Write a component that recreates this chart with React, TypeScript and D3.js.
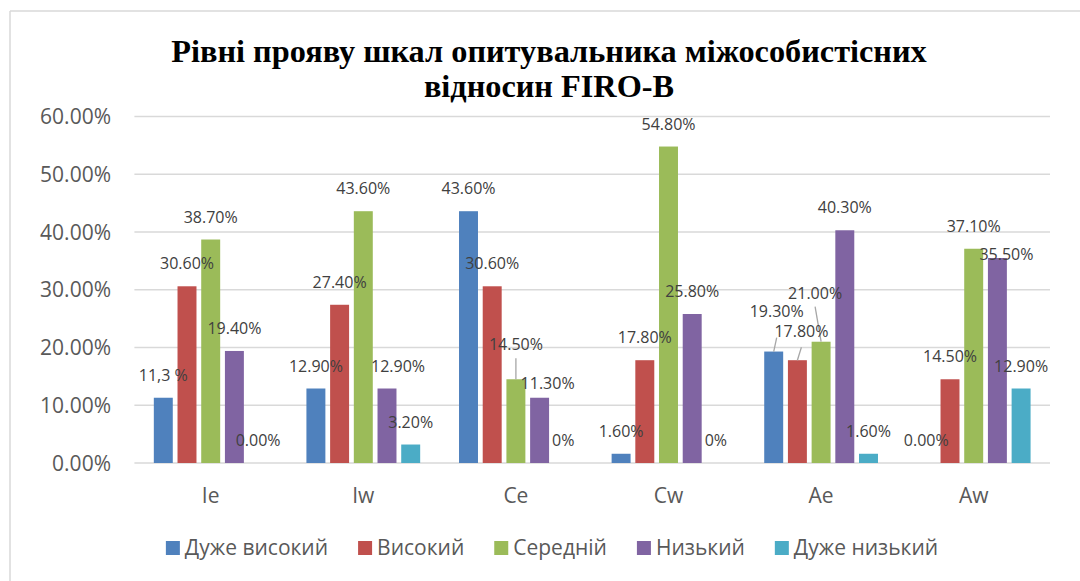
import React from 'react';
import * as d3 from 'd3';

const categories = ['Ie', 'Iw', 'Ce', 'Cw', 'Ae', 'Aw'];
const seriesNames = ['Дуже високий', 'Високий', 'Середній', 'Низький', 'Дуже низький'];
const veryHigh = [11.3, 12.9, 43.6, 1.6, 19.3, 0.0];
const high = [30.6, 27.4, 30.6, 17.8, 17.8, 14.5];
const medium = [38.7, 43.6, 14.5, 54.8, 21.0, 37.1];
const low = [19.4, 12.9, 11.3, 25.8, 40.3, 35.5];
const veryLow = [0.0, 3.2, 0.0, 0.0, 1.6, 12.9];
const yTicks = [0, 10, 20, 30, 40, 50, 60];
const titleLines = ['Рівні прояву шкал опитувальника міжособистісних', 'відносин FIRO-B'];

// label texts that differ from the default "0.00%" formatting
const labelTextOverrides = [
  { cat: 'Ie', s: 0, text: '11,3 %' },
  { cat: 'Ce', s: 4, text: '0%' },
  { cat: 'Cw', s: 4, text: '0%' },
];

// manual label nudges (relative to default outside-end position)
const labelNudges = [
  { cat: 'Iw', s: 3, dx: 11, dy: 0, leader: 0 },
  { cat: 'Ce', s: 2, dx: 0, dy: -12, leader: 8 },
  { cat: 'Ce', s: 3, dx: 8, dy: 8, leader: 0 },
  { cat: 'Ae', s: 0, dx: 3, dy: -18, leader: 21 },
  { cat: 'Ae', s: 1, dx: 4, dy: -6, leader: 10 },
  { cat: 'Ae', s: 2, dx: -6, dy: -26, leader: 8 },
  { cat: 'Aw', s: 3, dx: 9, dy: 19, leader: 0 },
];

const seriesValues = [veryHigh, high, medium, low, veryLow];
const colors = ['#4f81bd', '#c0504d', '#9bbb59', '#8064a2', '#4bacc6'];

const W = 1080;
const H = 581;
const plotLeft = 134.4;
const plotRight = 1050;
const plotTop = 116.5;
const plotBottom = 463;
const sans = "'Open Sans', sans-serif";

function measure(text: string, font: string): number {
  const c = document.createElement('canvas');
  const ctx = c.getContext('2d');
  if (!ctx) return text.length * 10;
  ctx.font = font;
  return ctx.measureText(text).width;
}

export default function App() {
  const x0 = d3.scaleBand<string>().domain(categories).range([plotLeft, plotRight]).padding(0);
  const y = d3.scaleLinear().domain([0, 60]).range([plotBottom, plotTop]);
  const groupW = 118.5;
  const x1 = d3
    .scaleBand<number>()
    .domain(d3.range(seriesNames.length))
    .range([0, groupW])
    .paddingInner(0.2)
    .paddingOuter(0.1);
  const fmt = d3.format('.2f');

  const bars: any[] = [];
  const labels: any[] = [];
  categories.forEach((cat, ci) => {
    const gx = (x0(cat) as number) + x0.bandwidth() / 2 - groupW / 2;
    seriesValues.forEach((vals, si) => {
      const v = vals[ci];
      const bx = gx + (x1(si) as number);
      const bw = x1.bandwidth();
      const top = y(v);
      bars.push({ key: `${cat}-${si}`, x: bx, y: top, w: bw, h: plotBottom - top, color: colors[si] });
      const ov = labelTextOverrides.find((o) => o.cat === cat && o.s === si);
      const nd = labelNudges.find((o) => o.cat === cat && o.s === si);
      const cx = bx + bw / 2;
      const lx = cx + (nd ? nd.dx : 0);
      const ly = top - 17 + (nd ? nd.dy : 0);
      labels.push({
        key: `${cat}-${si}`,
        x: lx,
        y: ly,
        text: ov ? ov.text : `${fmt(v)}%`,
        leader: nd && nd.leader ? { x1: lx, y1: ly + nd.leader, x2: cx, y2: top } : null,
      });
    });
  });

  // legend layout
  const legendFont = `21px ${sans}`;
  const sq = 14;
  const gapSqText = 5;
  const gapItems = 30;
  const widths = seriesNames.map((n) => measure(n, legendFont));
  const totalW = widths.reduce((a, w) => a + sq + gapSqText + w, 0) + gapItems * (seriesNames.length - 1);
  let lxPos = 552 - totalW / 2;
  const legendItems = seriesNames.map((n, i) => {
    const item = { name: n, x: lxPos, color: colors[i] };
    lxPos += sq + gapSqText + widths[i] + gapItems;
    return item;
  });

  return (
    <svg
      width={W}
      height={H}
      style={{ position: 'absolute', left: 0, top: 0, background: '#fff' }}
      xmlns="http://www.w3.org/2000/svg"
    >
      <rect x={0} y={0} width={W} height={H} fill="#fff" />
      <line x1={10} y1={11} x2={W} y2={11} stroke="#d9d9d9" strokeWidth={1.5} />
      <line x1={10} y1={11} x2={10} y2={H} stroke="#d9d9d9" strokeWidth={1.5} />

      <g fontFamily="'Liberation Serif', 'Times New Roman', serif" fontWeight="bold" fontSize={32.3} fill="#000" textAnchor="middle">
        {titleLines.map((t, i) => (
          <text key={i} x={549} y={62 + i * 34.5}>
            {t}
          </text>
        ))}
      </g>

      <g>
        {yTicks.map((t) => (
          <g key={t}>
            <line x1={plotLeft} x2={plotRight} y1={y(t)} y2={y(t)} stroke="#d9d9d9" strokeWidth={1.5} />
            <text x={111} y={y(t) + 7.5} textAnchor="end" fontFamily={sans} fontSize={21} fill="#595959">
              {`${fmt(t)}%`}
            </text>
          </g>
        ))}
      </g>

      <g>
        {bars.map((b) =>
          b.h > 0 ? <rect key={b.key} x={b.x} y={b.y} width={b.w} height={b.h} fill={b.color} /> : null
        )}
      </g>

      <g>
        {labels.map((l) =>
          l.leader ? (
            <line
              key={`ld-${l.key}`}
              x1={l.leader.x1}
              y1={l.leader.y1}
              x2={l.leader.x2}
              y2={l.leader.y2}
              stroke="#a6a6a6"
              strokeWidth={1.3}
            />
          ) : null
        )}
        {labels.map((l) => (
          <text key={l.key} x={l.x} y={l.y} textAnchor="middle" fontFamily={sans} fontSize={16} fill="#404040">
            {l.text}
          </text>
        ))}
      </g>

      <g>
        {categories.map((c) => (
          <text
            key={c}
            x={(x0(c) as number) + x0.bandwidth() / 2}
            y={503}
            textAnchor="middle"
            fontFamily={sans}
            fontSize={21}
            fill="#595959"
          >
            {c}
          </text>
        ))}
      </g>

      <g>
        {legendItems.map((it) => (
          <g key={it.name}>
            <rect x={it.x} y={541} width={sq} height={sq} fill={it.color} />
            <text x={it.x + sq + gapSqText} y={555} fontFamily={sans} fontSize={21} fill="#595959">
              {it.name}
            </text>
          </g>
        ))}
      </g>
    </svg>
  );
}
